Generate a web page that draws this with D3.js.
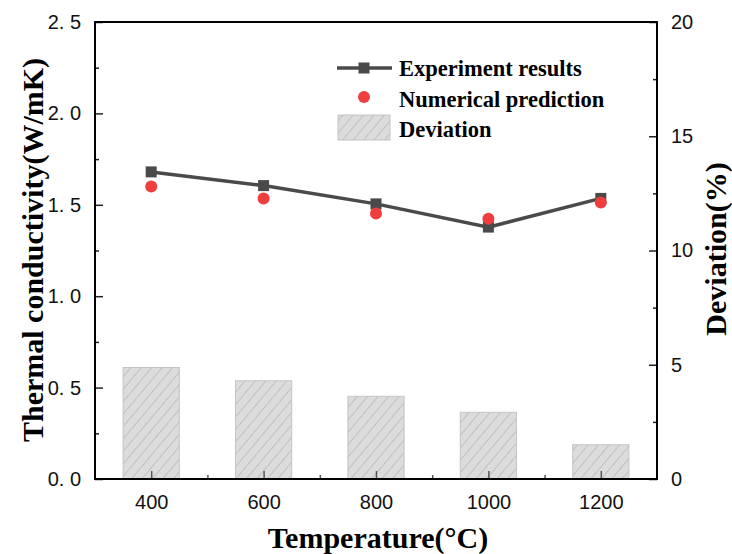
<!DOCTYPE html>
<html>
<head>
<meta charset="utf-8">
<script src="https://cdn.jsdelivr.net/npm/d3@7"></script>
<style>
  body { margin: 0; background: #fff; }
</style>
</head>
<body>
<svg width="732" height="554"></svg>
<script>
// data
var temps = [400, 600, 800, 1000, 1200];
var experiment = [1.68, 1.605, 1.505, 1.378, 1.535];
var numerical = [1.60, 1.534, 1.452, 1.424, 1.512];
var deviation = [4.88, 4.3, 3.62, 2.92, 1.5];
var leftTicks = [0, 0.5, 1.0, 1.5, 2.0, 2.5];
var rightTicks = [0, 5, 10, 15, 20];

var svg = d3.select('svg');
var pLeft = 95, pRight = 657, pTop = 22, pBottom = 479;

var scaleX = d3.scaleLinear().domain([300, 1300]).range([pLeft, pRight]);
var scaleY = d3.scaleLinear().domain([0, 2.5]).range([pBottom, pTop]);
var scaleY2 = d3.scaleLinear().domain([0, 20]).range([pBottom, pTop]);

var defs = svg.append('defs');
var pat = defs.append('pattern')
    .attr('id', 'hatch')
    .attr('patternUnits', 'userSpaceOnUse')
    .attr('width', 8).attr('height', 8)
    .attr('patternTransform', 'rotate(40)');
pat.append('rect').attr('width', 8).attr('height', 8).attr('fill', '#dcdcdc');
pat.append('line').attr('x1', 0).attr('y1', 0).attr('x2', 0).attr('y2', 8)
    .attr('stroke', '#9e9e9e').attr('stroke-width', 0.9);

// bars, 100 degrees wide
var barW = scaleX(400) - scaleX(300);
svg.selectAll('.bar')
    .data(deviation)
    .enter()
    .append('rect')
    .attr('class', 'bar')
    .attr('x', function (d, i) { return scaleX(temps[i]) - barW / 2; })
    .attr('y', function (d) { return scaleY2(d); })
    .attr('width', barW)
    .attr('height', function (d) { return pBottom - scaleY2(d); })
    .attr('fill', 'url(#hatch)')
    .attr('stroke', '#c4c4c4')
    .attr('stroke-width', 1);

// axes
var tickFont = '"Liberation Sans", Arial, sans-serif';

var gl = svg.append('g').attr('transform', 'translate(' + pLeft + ',0)')
    .call(d3.axisLeft(scaleY).tickValues(d3.range(0, 2.51, 0.25)).tickSize(-8).tickPadding(14)
        .tickFormat(function (d) { return leftTicks.indexOf(+d.toFixed(2)) >= 0 ? d.toFixed(1).replace('.', '. ') : ''; }));
gl.selectAll('.tick line').attr('x2', function (d) { return Math.round(d * 4) % 2 ? 4 : 8; });

var gr = svg.append('g').attr('transform', 'translate(' + pRight + ',0)')
    .call(d3.axisRight(scaleY2).tickValues(d3.range(0, 20.1, 2.5)).tickSize(-8).tickPadding(14)
        .tickFormat(function (d) { return rightTicks.indexOf(d) >= 0 ? d : ''; }));
gr.selectAll('.tick line').attr('x2', function (d) { return (d % 5) ? -4 : -8; });

var gb = svg.append('g').attr('transform', 'translate(0,' + pBottom + ')')
    .call(d3.axisBottom(scaleX).tickValues(d3.range(400, 1201, 100)).tickSize(-8).tickPadding(16)
        .tickFormat(function (d) { return temps.indexOf(d) >= 0 ? d : ''; }));
gb.selectAll('.tick line').attr('y2', function (d) { return (d % 200) ? -4 : -8; });

[gl, gr, gb].forEach(function (g) {
    g.select('.domain').remove();
    g.selectAll('.tick line').attr('stroke', '#222').attr('stroke-width', 1.5);
    g.selectAll('.tick text').attr('font-family', tickFont).attr('font-size', 20).attr('fill', '#111');
});
gb.selectAll('.tick line').attr('stroke', '#555');

// frame
svg.append('rect')
    .attr('x', pLeft).attr('y', pTop)
    .attr('width', pRight - pLeft).attr('height', pBottom - pTop)
    .attr('fill', 'none').attr('stroke', '#000').attr('stroke-width', 2);

// experiment line
var line = d3.line()
    .x(function (d, i) { return scaleX(temps[i]); })
    .y(function (d) { return scaleY(d); });
svg.append('path')
    .datum(experiment)
    .attr('d', line)
    .attr('fill', 'none')
    .attr('stroke', '#4a4a4a')
    .attr('stroke-width', 3.5);
svg.selectAll('.sq')
    .data(experiment)
    .enter()
    .append('rect')
    .attr('x', function (d, i) { return scaleX(temps[i]) - 5.5; })
    .attr('y', function (d) { return scaleY(d) - 5.5; })
    .attr('width', 11).attr('height', 11)
    .attr('fill', '#4a4a4a');

svg.selectAll('.pt')
    .data(numerical)
    .enter()
    .append('circle')
    .attr('cx', function (d, i) { return scaleX(temps[i]); })
    .attr('cy', function (d) { return scaleY(d); })
    .attr('r', 6)
    .attr('fill', '#ef3e3e');

// legend
var titleFont = '"Liberation Serif", "Times New Roman", serif';
var lg = svg.append('g');
lg.append('line').attr('x1', 337).attr('x2', 392).attr('y1', 68).attr('y2', 68)
    .attr('stroke', '#4a4a4a').attr('stroke-width', 3.5);
lg.append('rect').attr('x', 358.5).attr('y', 62.5).attr('width', 11).attr('height', 11).attr('fill', '#4a4a4a');
lg.append('circle').attr('cx', 364).attr('cy', 97).attr('r', 6).attr('fill', '#ef3e3e');
lg.append('rect').attr('x', 338).attr('y', 115).attr('width', 52).attr('height', 25)
    .attr('fill', 'url(#hatch)').attr('stroke', '#c4c4c4');
var legendNames = ['Experiment results', 'Numerical prediction', 'Deviation'];
lg.selectAll('text')
    .data(legendNames)
    .enter()
    .append('text')
    .attr('x', 399)
    .attr('y', function (d, i) { return 76 + i * 30.5; })
    .attr('font-family', titleFont)
    .attr('font-weight', 'bold')
    .attr('font-size', 22.5)
    .text(function (d) { return d; });

// axis titles
svg.append('text')
    .attr('x', 378)
    .attr('y', 548)
    .attr('text-anchor', 'middle')
    .attr('font-family', titleFont)
    .attr('font-weight', 'bold')
    .attr('font-size', 30)
    .text('Temperature(°C)');

svg.append('text')
    .attr('transform', 'translate(43,250) rotate(-90)')
    .attr('text-anchor', 'middle')
    .attr('font-family', titleFont)
    .attr('font-weight', 'bold')
    .attr('font-size', 30)
    .text('Thermal conductivity(W/mK)');

svg.append('text')
    .attr('transform', 'translate(726,249) rotate(-90)')
    .attr('text-anchor', 'middle')
    .attr('font-family', titleFont)
    .attr('font-weight', 'bold')
    .attr('font-size', 30)
    .text('Deviation(%)');
</script>
</body>
</html>
